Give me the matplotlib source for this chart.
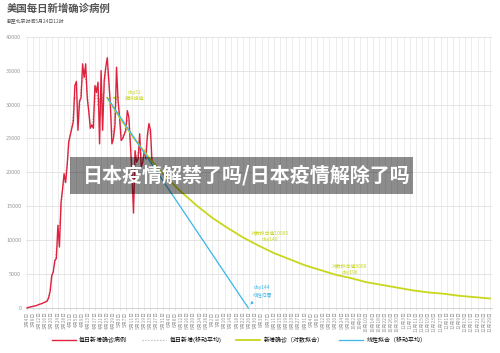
import matplotlib
matplotlib.use("Agg")
import matplotlib.pyplot as plt
import numpy as np
import pandas as pd

plt.rcParams['font.family'] = ['Noto Sans CJK SC', 'DejaVu Sans']

# daily new confirmed cases, one value per day starting 3月4日
daily_cases = [0, 100, 150, 200, 250, 300, 350, 450, 550, 600, 700, 800, 900, 1000,
               1500, 2500, 4800, 5300, 7000, 7300, 12200, 9000, 15500, 17500, 19800, 18500,
               21000, 24500, 25500, 26500, 27500, 32800, 33400, 26200, 30500, 31000, 36000,
               34000, 36000, 31000, 29000, 26500, 27000, 26500, 32800, 31800, 33300, 24200,
               35000, 26200, 33500, 35500, 36900, 33500, 30000, 24200, 25000, 27000, 35500,
               30500, 28000, 24700, 25000, 25600, 26200, 29100, 28100, 24000, 19800, 14000,
               23200, 21500, 22000, 25700, 20800, 21500, 23200, 22000, 25500, 27200, 26200, 21500]

# moving average of daily new cases
moving_avg = [0, 80, 150, 200, 250, 300, 380, 450, 530, 620, 700, 800, 900, 1100,
              1700, 2900, 4200, 5700, 6500, 8800, 9500, 12200, 14000, 17600, 18600, 19800,
              21300, 23700, 25500, 26500, 28900, 31200, 30800, 30000, 29200, 32500, 33700,
              35300, 33700, 32000, 28800, 27500, 26700, 28800, 30400, 32600, 29800, 30800,
              28500, 31600, 31700, 35300, 35300, 33500, 29200, 26400, 25400, 29200, 31000,
              31300, 27700, 25900, 25100, 25600, 27000, 27800, 27100, 24000, 19300, 19000,
              19600, 22200, 23100, 22800, 22700, 21800, 22200, 23600, 24900, 26300, 25000]

# log (exponential) fit, day offset -> value
log_fit_days = [52, 60, 70, 80, 90, 100, 110, 120, 130, 140, 150, 160, 170, 180, 190,
                200, 210, 220, 230, 240, 250, 260, 270, 280, 290, 300]
log_fit_vals = [31000, 28100, 24800, 21900, 19300, 17100, 15100, 13300, 11800, 10400,
                9200, 8100, 7200, 6300, 5600, 4900, 4400, 3800, 3400, 3000, 2600, 2300,
                2100, 1800, 1600, 1400]

# linear fit
lin_fit_days = [52, 143.4]
lin_fit_vals = [31000, 0]

tick_dates = pd.date_range('2020-03-04', '2020-12-29', freq='4D')
tick_labels = [f"{t.month}月{t.day}日" for t in tick_dates]
y_ticks = [0, 5000, 10000, 15000, 20000, 25000, 30000, 35000, 40000]

RED = '#e0213d'
GREY = '#aaaaaa'
LIME = '#c8d61c'
BLUE = '#3ab6e8'

fig = plt.figure(figsize=(5.0, 3.53), dpi=100)
ax = fig.add_axes([0.051, 0.1275, 0.932, 0.7685])

tick_pos = [(t - tick_dates[0]).days for t in tick_dates]

ax.plot(np.arange(len(daily_cases)), daily_cases, color=RED, lw=1.0, clip_on=False,
        label='每日新增确诊病例', zorder=4)
ax.plot(np.arange(len(moving_avg)), moving_avg, color=GREY, lw=0.8, ls=':',
        label='每日新增(移动平均)', zorder=3)
ax.plot(log_fit_days, log_fit_vals, color=LIME, lw=1.3, label='新增确诊（对数拟合）', zorder=5)
ax.plot(lin_fit_days, lin_fit_vals, color=BLUE, lw=0.9, clip_on=False,
        label='线性拟合（移动平均）', zorder=5)

ax.annotate('day52\n模拟峰值', xy=(53.5, 30900), xytext=(69.5, 31300), color=LIME,
            fontsize=3.5, ha='center', va='center', linespacing=1.3,
            arrowprops=dict(arrowstyle='-|>', color=LIME, lw=0.5, mutation_scale=4))
ax.text(157.5, 10600, '对数拟合值10000\nday140', color=LIME, fontsize=3.5,
        ha='center', va='center', linespacing=1.4)
ax.text(209, 5700, '对数拟合值5000\nday196', color=LIME, fontsize=3.5,
        ha='center', va='center', linespacing=1.4)
ax.annotate('day144\n线性归零', xy=(143.6, 200), xytext=(152.5, 2500), color=BLUE,
            fontsize=3.5, ha='center', va='center', linespacing=1.4,
            arrowprops=dict(arrowstyle='-|>', color=BLUE, lw=0.5, mutation_scale=4))

ax.set_xlim(-1, 301)
ax.set_ylim(0, 40000)
ax.set_xticks(tick_pos)
ax.set_xticklabels(tick_labels, rotation=90, fontsize=3.5, color='#999999')
ax.set_yticks(y_ticks)
ax.set_yticklabels([str(v) for v in y_ticks], fontsize=4, color='#999999')
ax.tick_params(axis='y', length=0, pad=3)
ax.tick_params(axis='x', length=1.5, width=0.4, color='#cccccc', pad=1)

ax.grid(True, axis='x', color='#e6e6e6', lw=0.5)
ax.grid(True, axis='y', color='#e0e0e0', lw=0.6)
ax.set_axisbelow(True)
for s in ['top', 'right', 'left']:
    ax.spines[s].set_visible(False)
ax.spines['bottom'].set_color('#cccccc')
ax.spines['bottom'].set_linewidth(0.6)

fig.text(0.014, 0.975, '美国每日新增确诊病例', fontsize=7.5, fontweight='bold',
         color='#555555', ha='left', va='center')
fig.text(0.014, 0.938, '截至北京时间5月24日12时', fontsize=3.5, color='#555555',
         ha='left', va='center')

fig.legend(loc='center', bbox_to_anchor=(0.478, 0.037), ncol=4, frameon=False,
           fontsize=4.3, handlelength=4, handletextpad=0.6, columnspacing=2.5)

# grey banner over the chart
fig.patches.append(plt.Rectangle((0.14, 0.4504), 0.686, 0.1048, transform=fig.transFigure,
                                 facecolor='black', alpha=0.45, edgecolor='none', zorder=10))
fig.text(0.166, 0.503, '日本疫情解禁了吗/日本疫情解除了吗', fontsize=14.4, fontweight='bold',
         color='white', ha='left', va='center', zorder=11)

fig.savefig('out.png', dpi=100)
